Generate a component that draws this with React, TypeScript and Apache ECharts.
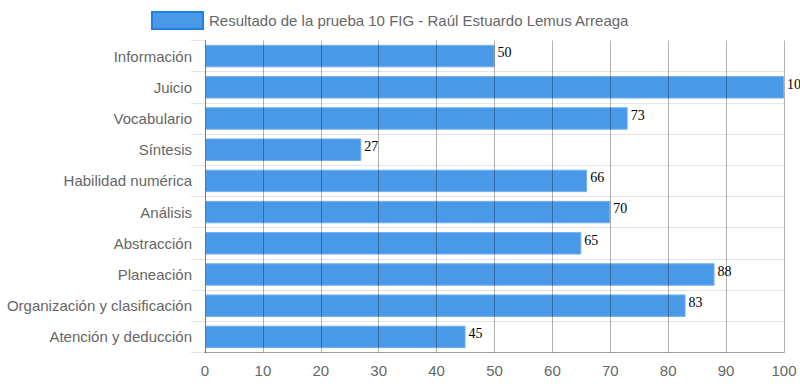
import React, { useEffect, useRef } from "react";
import * as echarts from "echarts";

const categories = [
  "Información",
  "Juicio",
  "Vocabulario",
  "Síntesis",
  "Habilidad numérica",
  "Análisis",
  "Abstracción",
  "Planeación",
  "Organización y clasificación",
  "Atención y deducción",
];
const values = [50, 100, 73, 27, 66, 70, 65, 88, 83, 45];
const seriesName = "Resultado de la prueba 10 FIG - Raúl Estuardo Lemus Arreaga";

export default function App() {
  const ref = useRef<HTMLDivElement>(null);
  useEffect(() => {
    if (!ref.current) return;
    const chart = echarts.init(ref.current, undefined, { renderer: "svg" });
    chart.setOption({
      animation: false,
      textStyle: { fontFamily: "'Liberation Sans', Arial, sans-serif" },
      legend: {
        top: 6,
        left: 146,
        itemWidth: 51,
        itemHeight: 17,
        itemGap: 10,
        icon: "rect",
        textStyle: { color: "#666", fontSize: 15, padding: [0, 0, 0, 1] },
        itemStyle: { color: "#4a99e9", borderColor: "#1f80e0", borderWidth: 2 },
        data: [seriesName],
      },
      grid: { left: 205, right: 16, top: 40.5, bottom: 33.5, containLabel: false },
      xAxis: {
        type: "value",
        min: 0,
        max: 100,
        interval: 10,
        z: 3,
        axisLine: { show: true, lineStyle: { color: "rgba(0,0,0,0.3)" } },
        axisTick: { show: false },
        axisLabel: { color: "#666", fontSize: 15, margin: 10 },
        splitLine: { show: true, lineStyle: { color: "rgba(0,0,0,0.3)" } },
      },
      yAxis: {
        type: "category",
        data: categories,
        inverse: true,
        axisLine: { show: true, lineStyle: { color: "rgba(0,0,0,0.3)" } },
        axisTick: { show: true, length: 14, lineStyle: { color: "rgba(0,0,0,0.1)" } },
        axisLabel: { color: "#666", fontSize: 15, margin: 13, padding: [0, 0, 4, 0] },
        splitLine: { show: true, showMinLine: false, lineStyle: { color: "rgba(0,0,0,0.1)" } },
      },
      series: [
        {
          name: seriesName,
          type: "bar",
          data: values,
          barCategoryGap: "28%",
          itemStyle: { color: "#4a99e9", borderColor: "#72b0f0", borderWidth: 1 },
          label: {
            show: true,
            position: ["100%", 0],
            align: "left",
            verticalAlign: "top",
            padding: [1, 0, 0, 3],
            color: "#000",
            fontSize: 14,
            fontFamily: "'Liberation Serif', 'Times New Roman', serif",
          },
        },
      ],
    });
    return () => chart.dispose();
  }, []);
  return (
    <div
      ref={ref}
      style={{ position: "absolute", left: 0, top: 0, width: 800, height: 386 }}
    />
  );
}
